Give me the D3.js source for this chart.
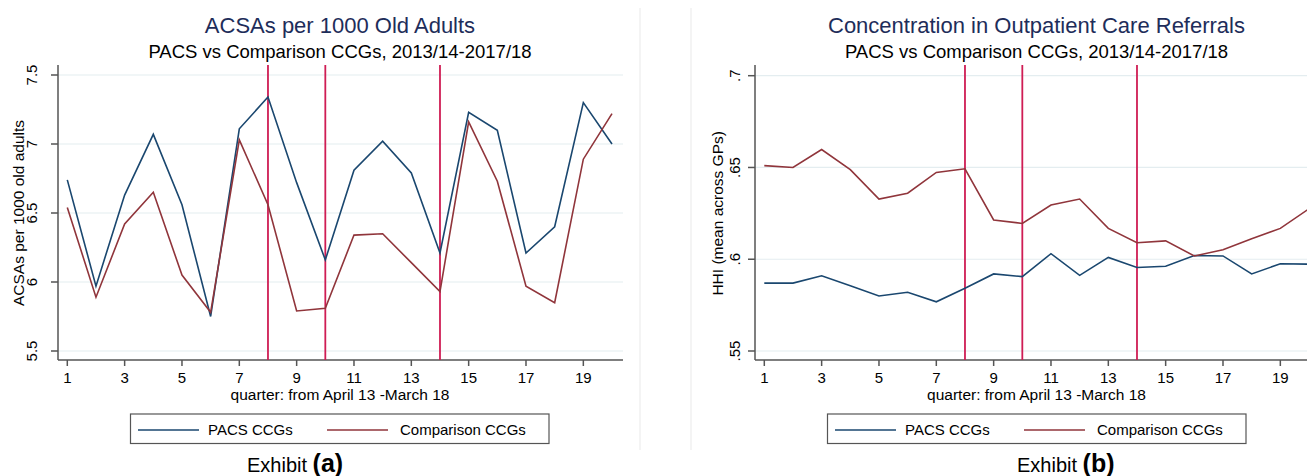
<!DOCTYPE html>
<html lang="en">
<head>
  <meta charset="UTF-8">
  <title>PACS vs Comparison CCGs</title>
  <script src="https://d3js.org/d3.v7.min.js"></script>
  <style>
    body { margin: 0; background: #fff; }
    text { font-family: "Liberation Sans", Arial, sans-serif; fill: #000; }
    .title { fill: #1e2d5a; font-size: 22px; }
    .subtitle { font-size: 18.5px; }
    .tick-label { font-size: 15px; }
    .axis-title { font-size: 15.5px; }
    .legend-text { font-size: 15px; }
    .grid { stroke: #e4edf0; stroke-width: 1.2px; }
    .axis-line { stroke: #555; stroke-width: 1.5px; }
    .series { fill: none; stroke-width: 1.6px; }
  </style>
</head>
<body>
  <div id="chart"></div>
  <script>
    // quarters 1..20 (April 13 - March 18)
    const quarters = [1, 2, 3, 4, 5, 6, 7, 8, 9, 10, 11, 12, 13, 14, 15, 16, 17, 18, 19, 20];
    const xTicks = [1, 3, 5, 7, 9, 11, 13, 15, 17, 19];
    const policyQuarters = [8, 10, 14];
    const seriesNames = ["PACS CCGs", "Comparison CCGs"];

    // Exhibit (a): ACSAs per 1000 old adults
    const acsaPacs = [6.74, 5.97, 6.63, 7.07, 6.56, 5.75, 7.11, 7.34, 6.72, 6.16,
                      6.81, 7.02, 6.79, 6.21, 7.23, 7.10, 6.21, 6.40, 7.30, 7.00];
    const acsaComp = [6.54, 5.89, 6.42, 6.65, 6.05, 5.78, 7.03, 6.56, 5.79, 5.81,
                      6.34, 6.35, 6.14, 5.93, 7.16, 6.73, 5.97, 5.85, 6.89, 7.22];
    const acsaTicks = [5.5, 6, 6.5, 7, 7.5];

    // Exhibit (b): HHI concentration in outpatient referrals
    const hhiPacs = [0.587, 0.587, 0.591, 0.5855, 0.580, 0.582, 0.5768, 0.5842, 0.592, 0.5905,
                     0.603, 0.5912, 0.601, 0.5955, 0.5962, 0.602, 0.6018, 0.592, 0.5975, 0.5973];
    const hhiComp = [0.651, 0.650, 0.6598, 0.6488, 0.6328, 0.636, 0.6473, 0.6493, 0.6214, 0.6195,
                     0.6295, 0.6328, 0.6168, 0.6090, 0.6100, 0.6018, 0.6052, 0.6112, 0.6168, 0.6275];
    const hhiTicks = [0.55, 0.6, 0.65, 0.7];

    const colors = ["#1a476f", "#90353b"];
    const policyColor = "#cf1d54";

    const svg = d3.select("#chart")
      .append("svg")
      .attr("width", 1307)
      .attr("height", 476);

    const panels = [
      {
        title: "ACSAs per 1000 Old Adults",
        yTitle: "ACSAs per 1000 old adults",
        series: [acsaPacs, acsaComp],
        yDomain: [5.5, 7.5], yRange: [351, 75],
        yTicks: acsaTicks, yFmt: d3.format(".2~f"),
        axisX: 58, plotRight: 623, xRange: [67.3, 612],
        center: 340, yTickLabelX: 37, yTitleX: 24,
        legend: { x: 130.5, w: 418.5 },
        exhibitX: 247, exhibitLabel: "(a)",
        border: 640
      },
      {
        title: "Concentration in Outpatient Care Referrals",
        yTitle: "HHI (mean across GPs)",
        series: [hhiPacs, hhiComp],
        yDomain: [0.55, 0.7], yRange: [351, 75.7],
        yTicks: hhiTicks, yFmt: d => d3.format(".2~f")(d).replace(/^0/, ""),
        axisX: 755, plotRight: 1318, xRange: [764.3, 1309],
        center: 1036.5, yTickLabelX: 740, yTitleX: 722.5,
        legend: { x: 827.5, w: 418.5 },
        exhibitX: 1017, exhibitLabel: "(b)",
        border: 691
      }
    ];

    const plotTop = 65;
    const plotBottom = 360;

    panels.forEach(p => {
      const g = svg.append("g");

      const x = d3.scaleLinear().domain([1, 20]).range(p.xRange);
      const y = d3.scaleLinear().domain(p.yDomain).range(p.yRange);

      // faint panel border
      g.append("line")
        .attr("x1", p.border).attr("x2", p.border)
        .attr("y1", 8).attr("y2", 450)
        .attr("stroke", "#f1f1f1").attr("stroke-width", 1.5);

      // titles
      g.append("text").attr("class", "title")
        .attr("x", p.center).attr("y", 33)
        .attr("text-anchor", "middle").text(p.title);
      g.append("text").attr("class", "subtitle")
        .attr("x", p.center).attr("y", 58)
        .attr("text-anchor", "middle").text("PACS vs Comparison CCGs, 2013/14-2017/18");

      // gridlines
      g.selectAll(".grid").data(p.yTicks).enter().append("line")
        .attr("class", "grid")
        .attr("x1", p.axisX).attr("x2", p.plotRight)
        .attr("y1", d => y(d)).attr("y2", d => y(d));

      // y axis
      g.append("line").attr("class", "axis-line")
        .attr("x1", p.axisX).attr("x2", p.axisX)
        .attr("y1", plotTop).attr("y2", plotBottom);
      g.selectAll(".ytick").data(p.yTicks).enter().append("line")
        .attr("class", "axis-line")
        .attr("x1", p.axisX - 7).attr("x2", p.axisX)
        .attr("y1", d => y(d)).attr("y2", d => y(d));
      g.selectAll(".ylab").data(p.yTicks).enter().append("text")
        .attr("class", "tick-label")
        .attr("text-anchor", "middle")
        .attr("transform", d => `translate(${p.yTickLabelX},${y(d)}) rotate(-90)`)
        .text(p.yFmt);
      g.append("text").attr("class", "axis-title")
        .attr("text-anchor", "middle")
        .attr("transform", `translate(${p.yTitleX},${(p.yRange[0] + p.yRange[1]) / 2}) rotate(-90)`)
        .text(p.yTitle);

      // x axis
      g.append("line").attr("class", "axis-line")
        .attr("x1", p.axisX).attr("x2", p.plotRight)
        .attr("y1", plotBottom).attr("y2", plotBottom);
      g.selectAll(".xtick").data(xTicks).enter().append("line")
        .attr("class", "axis-line")
        .attr("x1", d => x(d)).attr("x2", d => x(d))
        .attr("y1", plotBottom).attr("y2", plotBottom + 6);
      g.selectAll(".xlab").data(xTicks).enter().append("text")
        .attr("class", "tick-label")
        .attr("x", d => x(d)).attr("y", 383)
        .attr("text-anchor", "middle").text(d => d);
      g.append("text").attr("class", "axis-title")
        .attr("x", p.center).attr("y", 400)
        .attr("text-anchor", "middle").text("quarter: from April 13 -March 18");

      // policy lines
      g.selectAll(".policy").data(policyQuarters).enter().append("line")
        .attr("x1", d => x(d)).attr("x2", d => x(d))
        .attr("y1", plotTop).attr("y2", plotBottom)
        .attr("stroke", policyColor).attr("stroke-width", 1.8);

      // series
      const line = d3.line()
        .x((d, i) => x(quarters[i]))
        .y(d => y(d));
      p.series.forEach((s, i) => {
        g.append("path").datum(s)
          .attr("class", "series")
          .attr("stroke", colors[i])
          .attr("d", line);
      });

      // legend
      const lg = g.append("g").attr("transform", `translate(${p.legend.x},414)`);
      lg.append("rect")
        .attr("width", p.legend.w).attr("height", 29.5)
        .attr("fill", "#fff").attr("stroke", "#555").attr("stroke-width", 1.2);
      const items = [
        { lx: 7.5, tx: 77.5 },
        { lx: 196.5, tx: 269.5 }
      ];
      items.forEach((it, i) => {
        lg.append("line")
          .attr("x1", it.lx).attr("x2", it.lx + 61)
          .attr("y1", 16).attr("y2", 16)
          .attr("stroke", colors[i]).attr("stroke-width", 1.6);
        lg.append("text").attr("class", "legend-text")
          .attr("x", it.tx).attr("y", 21).text(seriesNames[i]);
      });

      // exhibit caption
      const ex = g.append("text").attr("x", p.exhibitX).attr("y", 472);
      ex.append("tspan").attr("font-size", "20px").text("Exhibit ");
      ex.append("tspan").attr("font-size", "25px").attr("font-weight", "bold").text(p.exhibitLabel);
    });
  </script>
</body>
</html>
